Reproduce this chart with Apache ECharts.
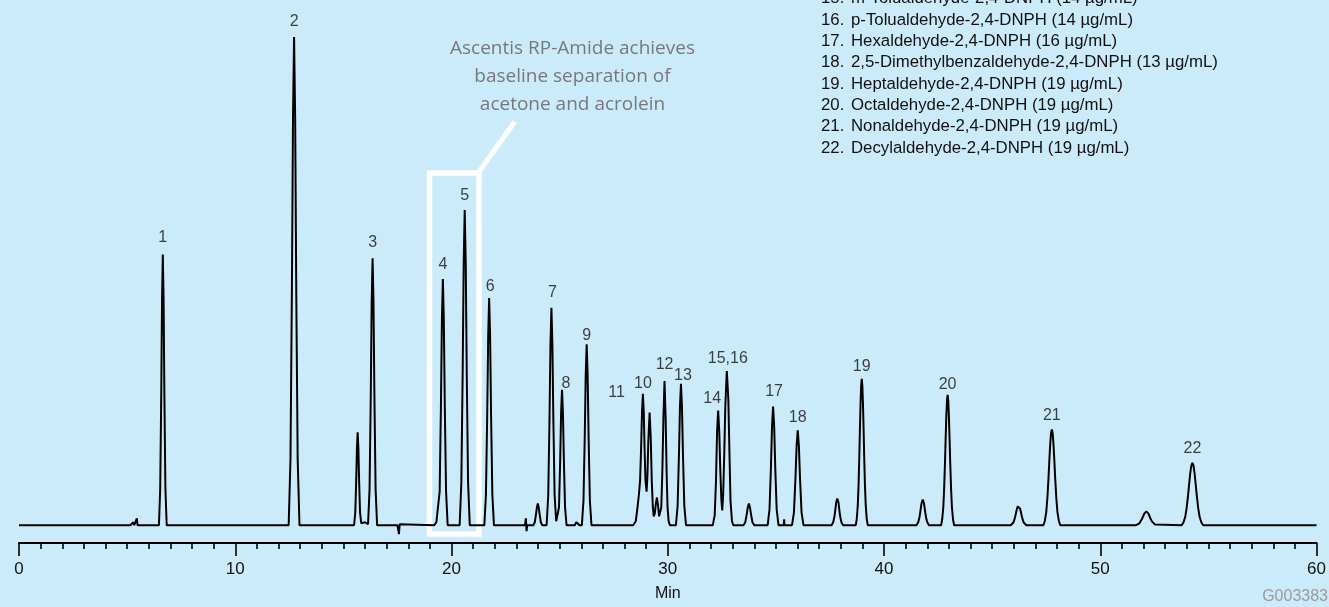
<!DOCTYPE html>
<html><head><meta charset="utf-8">
<script src="https://cdn.jsdelivr.net/npm/echarts@6/dist/echarts.min.js"></script>
<style>html,body{margin:0;padding:0;background:#CCEBFA;}#c{width:1329px;height:607px;}</style>
</head><body><div id="c"></div>
<script>
// Chromatogram trace: [time (min), detector signal (arbitrary units)]
const tracePoints = [
[0,0],[5.15,0],[5.22,2],[5.28,3],[5.33,0],[5.42,0],[5.45,7],[5.48,0],
[6.47,0],[6.53,37],[6.578,133],[6.614,229],[6.65,274],[6.686,229],[6.722,133],[6.77,37],[6.83,0],
[12.47,0],[12.554,67],[12.62,241],[12.67,412],[12.72,494],[12.77,412],[12.82,241],[12.886,67],[12.97,0],
[15.495,0],[15.55,13],[15.594,46],[15.627,78],[15.66,94],[15.693,78],[15.726,46],[15.77,13],[15.825,2],[16.0,3],
[16.14,1],[16.21,36],[16.266,131],[16.308,225],[16.35,270],[16.392,225],[16.434,131],[16.49,36],[16.56,0],
[17.50,0],[17.55,2],[17.57,-9],[17.60,1],[17.65,0],
[19.20,0],[19.30,3],[19.378,1],
[19.452,34],[19.511,121],[19.556,208],[19.60,249],[19.644,208],[19.689,121],[19.748,34],[19.822,0],
[20.376,0],[20.454,43],[20.516,155],[20.563,266],[20.61,319],[20.657,266],[20.704,155],[20.766,43],[20.844,0],
[21.518,0],[21.592,31],[21.651,112],[21.696,192],[21.74,230],[21.784,192],[21.829,112],[21.888,31],[21.962,0],
[23.05,0],[23.11,2],[23.17,0],[23.40,0],[23.44,7],[23.47,-6],[23.50,0],
[23.78,0],[23.85,3],[23.906,11],[23.948,18],[23.99,22],[24.032,18],[24.074,11],[24.13,3],[24.20,0],
[24.398,0],[24.472,30],[24.531,107],[24.576,184],[24.62,220],[24.664,184],[24.709,107],[24.768,30],[24.84,4],[24.87,4],
[24.90,4],[24.97,18],[25.026,67],[25.068,114],[25.11,137],[25.152,114],[25.194,67],[25.25,18],[25.32,0],
[25.70,0],[25.77,3],[25.81,5],[25.85,3],[25.92,0],
[26.028,0],[26.102,25],[26.161,89],[26.206,153],[26.25,183],[26.294,153],[26.339,89],[26.398,25],[26.472,0],
[28.40,0],[28.52,4],[28.60,18],[28.66,30],[28.72,45],[28.77,80],[28.81,115],[28.85,133],[28.89,115],[28.93,75],[28.97,45],[29.02,34],[29.06,50],[29.10,85],[29.16,114],[29.21,90],[29.26,45],[29.31,18],[29.35,9],[29.40,12],[29.45,22],[29.50,28],[29.55,20],[29.60,9],[29.64,8],[29.70,18],[29.75,55],[29.80,110],[29.85,146],[29.90,110],[29.95,50],[29.99,18],[30.04,4],[30.10,0],
[30.376,0],[30.454,19],[30.516,70],[30.563,119],[30.61,143],[30.657,119],[30.704,70],[30.766,19],[30.844,0],
[32.08,0],[32.17,10],[32.23,45],[32.28,95],[32.33,116],[32.38,95],[32.43,55],[32.48,25],[32.52,15],[32.56,30],[32.61,70],[32.66,120],[32.73,156],[32.80,128],[32.85,75],[32.90,25],[32.97,4],[33.03,0],
[33.50,0],[33.584,3],[33.65,11],[33.70,18],[33.75,22],[33.80,18],[33.85,11],[33.916,3],[34.0,0],
[34.62,0],[34.704,16],[34.77,58],[34.82,100],[34.87,120],[34.92,100],[34.97,58],[35.036,16],[35.12,0],
[35.36,0],[35.38,6],[35.40,0],
[35.746,0],[35.834,13],[35.904,47],[35.957,80],[36.01,96],[36.063,80],[36.116,47],[36.186,13],[36.274,0],
[37.576,0],[37.65,3],[37.70,8],[37.734,13],[37.787,23],[37.84,27],[37.893,23],[37.946,13],[37.98,8],[38.03,3],[38.104,0],
[38.694,0],[38.74,6.5],[38.786,20],[38.823,41],[38.86,72],[38.887,99],[38.915,124],[38.942,141],[38.97,148],[38.998,141],[39.025,124],[39.053,99],[39.08,72],[39.117,41],[39.154,20],[39.20,6.5],[39.246,0],
[41.50,0],[41.58,3],[41.63,7],[41.674,13],[41.732,22],[41.79,26],[41.848,22],[41.906,13],[41.95,7],[42.00,3],[42.08,0],
[42.64,0],[42.69,6],[42.74,18],[42.78,37],[42.82,64],[42.85,88],[42.88,110],[42.91,126],[42.94,132],[42.97,126],[43.00,110],[43.03,88],[43.06,64],[43.10,37],[43.14,18],[43.19,6],[43.24,0],
[45.86,0],[45.92,0.9],[45.98,2.7],[46.028,5.6],[46.076,9.7],[46.112,13.3],[46.148,16.7],[46.184,19.1],[46.22,20],[46.256,19.1],[46.292,16.7],[46.328,13.3],[46.364,9.7],[46.412,5.6],[46.46,2.7],[46.52,0.9],[46.58,0],
[47.37,0],[47.435,4.3],[47.50,13],[47.552,27],[47.604,47],[47.643,65],[47.682,81],[47.721,93],[47.76,97],[47.799,93],[47.838,81],[47.877,65],[47.916,47],[47.968,27],[48.02,13],[48.085,4.3],[48.15,0],
[51.65,0],[51.73,0.6],[51.81,1.9],[51.874,3.9],[51.938,6.8],[51.986,9.3],[52.034,11.7],[52.082,13.4],[52.13,14],[52.178,13.4],[52.226,11.7],[52.274,9.3],[52.322,6.8],[52.386,3.9],[52.45,1.9],[52.53,0.6],[52.61,0],
[53.762,0],[53.845,2.8],[53.928,8.5],[53.994,17.5],[54.061,30.7],[54.111,42],[54.16,52.6],[54.21,60.2],[54.26,63],[54.31,60.2],[54.36,52.6],[54.409,42],[54.459,30.7],[54.526,17.5],[54.592,8.5],[54.675,2.8],[54.758,0],
[60,0]
];

// Numbered peaks
const peakNames   = ['1','2','3','4','5','6','7','8','9','10','11','12','13','14','15,16','17','18','19','20','21','22'];
const peakTimes   = [6.65,12.72,16.35,19.60,20.61,21.74,24.62,25.11,26.25,28.85,29.16,29.85,30.61,32.33,32.73,34.87,36.01,38.97,42.94,47.76,54.26];
const peakHeights = [274,494,270,249,319,230,220,137,183,133,114,146,143,116,156,120,96,148,132,97,63];

// Compound list (visible part, top right)
const compoundNumbers = ['15.','16.','17.','18.','19.','20.','21.','22.'];
const compoundNames = [
  'm-Tolualdehyde-2,4-DNPH (14 µg/mL)',
  'p-Tolualdehyde-2,4-DNPH (14 µg/mL)',
  'Hexaldehyde-2,4-DNPH (16 µg/mL)',
  '2,5-Dimethylbenzaldehyde-2,4-DNPH (13 µg/mL)',
  'Heptaldehyde-2,4-DNPH (19 µg/mL)',
  'Octaldehyde-2,4-DNPH (19 µg/mL)',
  'Nonaldehyde-2,4-DNPH (19 µg/mL)',
  'Decylaldehyde-2,4-DNPH (19 µg/mL)'
];
const calloutText = 'Ascentis RP-Amide achieves\nbaseline separation of\nacetone and acrolein';
const xAxisName = 'Min';
const figureCode = 'G003383';

// layout only: label shift [dx px, distance of label centre above apex px]
const labelShift = [[0,16],[0,15],[0,15],[0,14],[0,14],[1,11],[1,15],[4,6],[0,8],[0,10],[-33,19],[0,16],[2,8],[-6,11],[1,12],[1,15],[0,12],[0,12],[0,10],[0,13],[0,14]];

const FONT = '"Liberation Sans", Arial, Helvetica, sans-serif';
const chart = echarts.init(document.getElementById('c'));

const labelData = peakTimes.map((t, i) => ({
  value: [t, peakHeights[i]],
  name: peakNames[i],
  label: { offset: [labelShift[i][0], -(labelShift[i][1] - 8)] }
}));

const graphics = [];
compoundNumbers.forEach((n, i) => {
  const y = -1.3 + i * 21.35;
  graphics.push({ type: 'text', silent: true, style: { text: n, x: 821, y: y, font: '16.8px ' + FONT, fill: '#111', textVerticalAlign: 'middle', verticalAlign: 'middle' } });
  graphics.push({ type: 'text', silent: true, style: { text: compoundNames[i], x: 851, y: y, font: '16.8px ' + FONT, fill: '#111', textVerticalAlign: 'middle', verticalAlign: 'middle' } });
});
graphics.push({ type: 'text', silent: true, style: { text: calloutText, x: 572.5, y: 77, font: '19px "Open Sans", sans-serif', lineHeight: 28, fill: '#77787b', textAlign: 'center', align: 'center', textVerticalAlign: 'middle', verticalAlign: 'middle' } });
graphics.push({ type: 'text', silent: true, style: { text: figureCode, x: 1328, y: 597, font: '16px ' + FONT, fill: '#9a9a9a', textAlign: 'right', align: 'right', textVerticalAlign: 'middle', verticalAlign: 'middle' } });

chart.setOption({
  backgroundColor: '#CCEBFA',
  animation: false,
  grid: { left: 19, right: 12, top: 37, bottom: 58, containLabel: false },
  xAxis: {
    type: 'value', min: 0, max: 60, interval: 10,
    axisLine: { onZero: false, lineStyle: { color: '#000', width: 2 } },
    axisTick: { length: 13, lineStyle: { color: '#000', width: 1.6 } },
    minorTick: { show: true, splitNumber: 10, length: 6, lineStyle: { color: '#000', width: 1.6 } },
    splitLine: { show: false },
    axisLabel: { fontSize: 17, color: '#111', margin: 18, fontFamily: FONT },
    name: xAxisName, nameLocation: 'middle', nameGap: 43,
    nameTextStyle: { fontSize: 16, color: '#111', fontFamily: FONT }
  },
  yAxis: { type: 'value', min: -18, max: 494, show: false, splitLine: { show: false } },
  series: [
    {
      type: 'line', data: tracePoints, showSymbol: false, symbol: 'none', clip: false, silent: true,
      lineStyle: { color: '#000', width: 2 }, z: 2
    },
    {
      type: 'line', data: [], silent: true, z: 4,
      markArea: {
        silent: true,
        itemStyle: { color: 'rgba(0,0,0,0)', borderColor: '#ffffff', borderWidth: 5.5 },
        label: { show: false },
        data: [[{ coord: [18.98, 356.5] }, { coord: [21.27, -9] }]]
      },
      markLine: {
        silent: true, symbol: ['none', 'none'],
        lineStyle: { color: '#ffffff', width: 5, type: 'solid' },
        label: { show: false },
        data: [[{ coord: [21.25, 357] }, { coord: [22.92, 408.3] }]]
      }
    },
    {
      type: 'scatter', data: labelData, symbolSize: 1, silent: true, z: 5,
      itemStyle: { color: 'rgba(0,0,0,0)' },
      label: {
        show: true, position: 'top', distance: 0, formatter: p => p.name,
        fontSize: 16, lineHeight: 16, color: '#111', fontFamily: FONT
      }
    }
  ],
  graphic: graphics
});
</script>
</body></html>
